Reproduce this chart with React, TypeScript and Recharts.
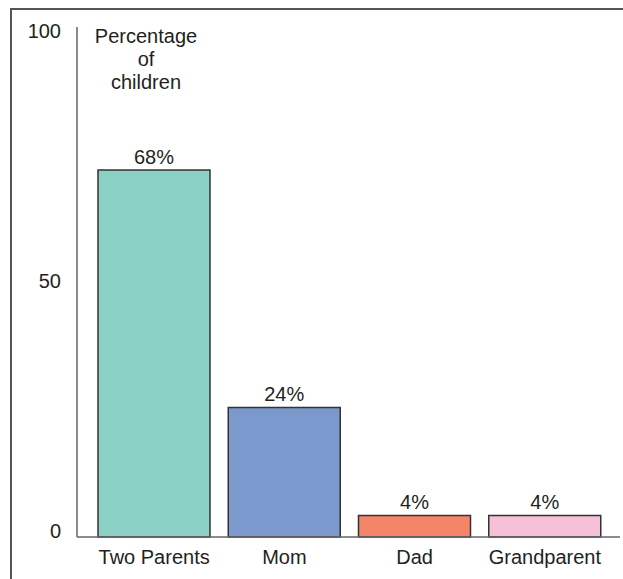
import React from 'react';
import { BarChart, Bar, XAxis, YAxis, Cell, LabelList } from 'recharts';

const categories = ['Two Parents', 'Mom', 'Dad', 'Grandparent'];
const percentages = [68, 24, 4, 4];
const barColors = ['#8ad0c4', '#7b99cc', '#f58568', '#f6c0d9'];
const yTicks = [0, 50, 100];
const titleLines = ['Percentage', 'of', 'children'];

const data = categories.map((c, i) => ({ name: c, value: percentages[i] }));

const FONT = '"Liberation Sans", Arial, Helvetica, sans-serif';
const TEXT = '#231f20';

export default function App() {
  return (
    <div style={{ position: 'fixed', left: 0, top: 0, width: 623, height: 579, overflow: 'hidden', background: '#fff', fontFamily: FONT }}>
      <div style={{ position: 'absolute', left: 10, top: 8, width: 613, height: 2, background: '#555' }} />
      <div style={{ position: 'absolute', left: 10, top: 8, width: 2, height: 571, background: '#555' }} />
      <div style={{ position: 'absolute', left: 0, top: 0, width: 623, height: 579 }}>
        <BarChart
          width={620}
          height={579}
          data={data}
          margin={{ top: 27, right: 0, bottom: 12, left: 0 }}
          barSize={112}
        >
          <XAxis
            dataKey="name"
            xAxisId="x"
            height={30}
            padding={{ left: 12, right: 10 }}
            tickLine={false}
            tickSize={0}
            tickMargin={13}
            axisLine={{ stroke: '#666', strokeWidth: 1.5 }}
            tick={{ fill: TEXT, fontSize: 20, fontFamily: FONT }}
            interval={0}
          />
          <YAxis
            yAxisId="labels"
            orientation="left"
            domain={[-1.2, 100.8]}
            ticks={yTicks}
            width={77}
            tickLine={false}
            tickSize={0}
            tickMargin={16}
            axisLine={{ stroke: '#666', strokeWidth: 1.5 }}
            tick={{ fill: TEXT, fontSize: 20, fontFamily: FONT }}
            allowDataOverflow
          />
          <YAxis yAxisId="bars" orientation="left" domain={[0, 94.5]} width={0} hide />
          <Bar dataKey="value" xAxisId="x" yAxisId="bars" isAnimationActive={false} stroke="#333" strokeWidth={1.5}>
            {data.map((d, i) => (
              <Cell key={d.name} fill={barColors[i]} />
            ))}
            <LabelList
              dataKey="value"
              position="top"
              offset={6}
              formatter={(v: any) => `${v}%`}
              style={{ fill: TEXT, fontSize: 20, fontFamily: FONT }}
            />
          </Bar>
        </BarChart>
      </div>
      <div style={{ position: 'absolute', left: 86, top: 25, width: 120, textAlign: 'center', fontSize: 20, lineHeight: '23px', color: TEXT, fontFamily: FONT }}>
        {titleLines.map((l) => (
          <div key={l}>{l}</div>
        ))}
      </div>
    </div>
  );
}
